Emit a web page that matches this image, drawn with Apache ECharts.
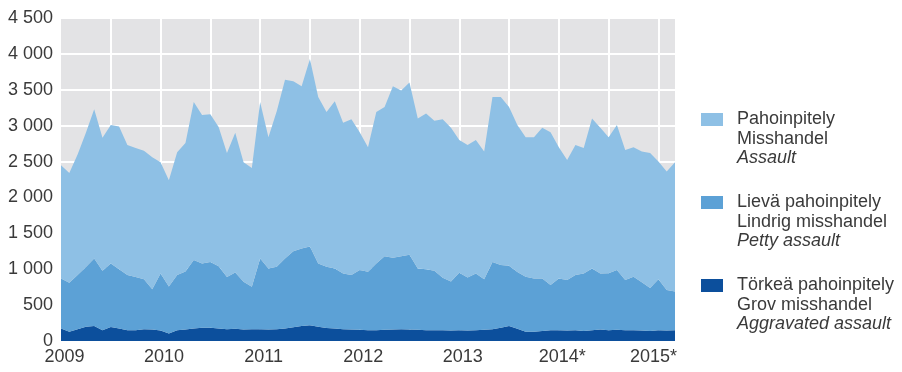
<!DOCTYPE html>
<html>
<head>
<meta charset="utf-8">
<script src="https://cdn.jsdelivr.net/npm/echarts@6/dist/echarts.min.js"></script>
<style>
  html, body { margin: 0; padding: 0; background: #ffffff; }
  #chart { width: 902px; height: 372px; }
</style>
</head>
<body>
<div id="chart"></div>
<script>
// Monthly assault offences, January 2009 – March 2015 (* = preliminary)
const yearLabels = ['2009', '2010', '2011', '2012', '2013', '2014*', '2015*'];

// Total of all three categories per month
const totalAll = [
  2450, 2340, 2600, 2900, 3230, 2830, 3010, 2990, 2730, 2690, 2650, 2560,
  2490, 2240, 2630, 2760, 3330, 3150, 3160, 2980, 2620, 2900, 2490, 2410,
  3330, 2840, 3200, 3640, 3620, 3550, 3930, 3400, 3190, 3340, 3040, 3090,
  2910, 2700, 3190, 3260, 3550, 3490, 3600, 3100, 3170, 3070, 3090, 2970,
  2800, 2730, 2800, 2640, 3400, 3400, 3260, 3010, 2840, 2840, 2970, 2910,
  2700, 2520, 2730, 2690, 3100, 2970, 2840, 3010, 2660, 2700, 2640, 2620,
  2500, 2360, 2490
];

// Petty assault + aggravated assault per month
const pettyPlusAggr = [
  870, 810, 920, 1030, 1150, 980, 1080, 1000, 920, 890, 860, 720,
  940, 760, 920, 970, 1130, 1080, 1100, 1040, 890, 955, 825, 755,
  1150, 1010, 1035, 1150, 1250, 1290, 1315, 1080, 1035, 1010, 940, 920,
  990, 965, 1080, 1180, 1160, 1180, 1200, 1010, 1000, 980, 880, 830,
  950, 885, 940, 860, 1100, 1060, 1050, 960, 895, 870, 870, 780,
  870, 850, 920, 940, 1010, 940, 945, 990, 850, 895, 820, 740,
  860, 710, 690
];

// Aggravated assault per month
const aggravated = [
  175, 130, 165, 200, 210, 150, 195, 175, 150, 150, 165, 160,
  145, 105, 150, 160, 175, 185, 185, 175, 165, 170, 160, 165,
  165, 160, 165, 175, 190, 210, 220, 200, 180, 175, 165, 160,
  155, 150, 150, 155, 160, 165, 160, 155, 150, 150, 150, 145,
  150, 145, 150, 155, 165, 185, 210, 170, 130, 130, 140, 150,
  150, 145, 150, 140, 150, 160, 150, 155, 150, 150, 145, 140,
  150, 145, 150
];

const petty = pettyPlusAggr.map((v, i) => v - aggravated[i]);
const assault = totalAll.map((v, i) => v - pettyPlusAggr[i]);

const months = [];
for (let y = 2009; months.length < totalAll.length; y++) {
  for (let m = 1; m <= 12 && months.length < totalAll.length; m++) {
    months.push(y + '-' + String(m).padStart(2, '0'));
  }
}

const COLORS = { assault: '#8ec0e5', petty: '#5ca1d6', aggr: '#0c4f9c' };
const FONT = '"Liberation Sans", Arial, sans-serif';
const TEXT = '#3a3a3a';

function fmtThousands(v) {
  if (v < 1000) return String(v);
  return Math.floor(v / 1000) + ' ' + String(v % 1000).padStart(3, '0');
}

const legendItems = [
  { color: COLORS.assault, lines: ['Pahoinpitely', 'Misshandel', 'Assault'] },
  { color: COLORS.petty, lines: ['Lievä pahoinpitely', 'Lindrig misshandel', 'Petty assault'] },
  { color: COLORS.aggr, lines: ['Törkeä pahoinpitely', 'Grov misshandel', 'Aggravated assault'] }
];

const graphics = [];
legendItems.forEach((it, k) => {
  const top = 111 + k * 83;
  graphics.push({
    type: 'rect', left: 701, top: top + 2,
    shape: { width: 22, height: 13 },
    style: { fill: it.color }
  });
  it.lines.forEach((t, j) => {
    graphics.push({
      type: 'text', left: 737, top: top - 1 + j * 19.7,
      style: {
        text: t, fill: TEXT,
        font: (j === 2 ? 'italic ' : '') + '18px ' + FONT
      }
    });
  });
});

const chart = echarts.init(document.getElementById('chart'), null, { renderer: 'canvas' });
chart.setOption({
  animation: false,
  backgroundColor: '#ffffff',
  grid: {
    left: 61, right: 227, top: 18, bottom: 31,
    show: true, backgroundColor: '#e3e3e5', borderWidth: 0
  },
  xAxis: {
    type: 'category',
    data: months,
    boundaryGap: false,
    axisLine: { show: false },
    axisTick: { show: false },
    splitLine: {
      show: true,
      interval: (i) => i % 6 === 0 && i > 0,
      lineStyle: { color: '#ffffff', width: 2 }
    },
    axisLabel: {
      interval: (i) => i % 12 === 0,
      margin: 7,
      color: TEXT,
      fontFamily: FONT,
      fontSize: 18,
      formatter: (val, i) => {
        const lab = yearLabels[Math.floor(i / 12)];
        return i === 72 ? '{e|' + lab + '}' : '{n|' + lab + '}';
      },
      rich: {
        n: { fontSize: 18, fontFamily: FONT, color: TEXT, padding: [0, 0, 0, 7] },
        e: { fontSize: 18, fontFamily: FONT, color: TEXT, padding: [0, 10, 0, 0] }
      }
    }
  },
  yAxis: {
    type: 'value',
    min: 0, max: 4500, interval: 500,
    axisLine: { show: false },
    axisTick: { show: false },
    splitLine: { show: true, lineStyle: { color: '#ffffff', width: 2 } },
    axisLabel: {
      margin: 8,
      color: TEXT,
      fontFamily: FONT,
      fontSize: 18,
      formatter: fmtThousands
    }
  },
  series: [
    {
      name: 'Törkeä pahoinpitely', type: 'line', stack: 'all', data: aggravated,
      symbol: 'none', lineStyle: { width: 0 },
      areaStyle: { color: COLORS.aggr, opacity: 1 }
    },
    {
      name: 'Lievä pahoinpitely', type: 'line', stack: 'all', data: petty,
      symbol: 'none', lineStyle: { width: 0 },
      areaStyle: { color: COLORS.petty, opacity: 1 }
    },
    {
      name: 'Pahoinpitely', type: 'line', stack: 'all', data: assault,
      symbol: 'none', lineStyle: { width: 0 },
      areaStyle: { color: COLORS.assault, opacity: 1 }
    }
  ],
  graphic: graphics
});
</script>
</body>
</html>
